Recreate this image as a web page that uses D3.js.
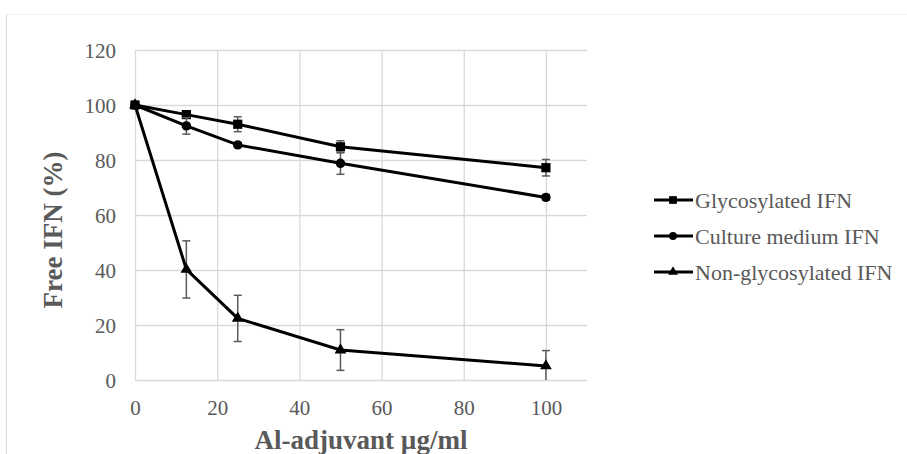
<!DOCTYPE html>
<html>
<head>
<meta charset="utf-8">
<script src="https://cdn.jsdelivr.net/npm/d3@7"></script>
<style>
  body { margin: 0; background: #fff; }
  svg text { font-family: "Liberation Serif", "Times New Roman", serif; fill: #595959; }
</style>
</head>
<body>
<script>
// doses (x) and free IFN (%) per series
const doses = [0, 12.5, 25, 50, 100]
const glycoVals = [100, 96.5, 93, 84.8, 77.2]
const glycoErr = [0, 1, 2.7, 2.2, 3]
const cultureVals = [100, 92.4, 85.5, 78.8, 66.4]
const cultureErr = [0, 3, 0.8, 4, 1]
const nonGlycoVals = [100, 40.2, 22.4, 10.9, 5.1]
const nonGlycoErr = [0, 10.4, 8.4, 7.4, 5.6]
const xTicks = [0, 20, 40, 60, 80, 100]
const yTicks = [0, 20, 40, 60, 80, 100, 120]
const seriesNames = ["Glycosylated IFN", "Culture medium IFN", "Non-glycosylated IFN"]

const WIDTH = 907, HEIGHT = 454
const svg = d3.select("body").append("svg").attr("width", WIDTH).attr("height", HEIGHT)

// faint outer frame
svg.append("line").attr("x1", 6.5).attr("x2", 6.5).attr("y1", 14).attr("y2", HEIGHT)
  .attr("stroke", "#d9d9d9")
svg.append("line").attr("x1", 6).attr("x2", WIDTH).attr("y1", 14.5).attr("y2", 14.5)
  .attr("stroke", "#f2f2f2")

const x = d3.scaleLinear().domain([0, 110]).range([135, 587])
const y = d3.scaleLinear().domain([0, 120]).range([380, 50])

// gridlines
svg.append("g").selectAll("line").data(yTicks).enter().append("line")
  .attr("x1", x(0)).attr("x2", x(110))
  .attr("y1", d => y(d) + 0.5).attr("y2", d => y(d) + 0.5)
  .attr("stroke", "#d9d9d9").attr("stroke-width", 1.3)
svg.append("g").selectAll("line").data(xTicks).enter().append("line")
  .attr("x1", d => x(d) + 0.5).attr("x2", d => x(d) + 0.5)
  .attr("y1", y(0)).attr("y2", y(120))
  .attr("stroke", "#d9d9d9").attr("stroke-width", 1.3)

// axes (labels only, Excel style)
const xAxis = svg.append("g").attr("transform", `translate(0,${y(0)})`)
  .call(d3.axisBottom(x).tickValues(xTicks).tickSize(0).tickPadding(20))
const yAxis = svg.append("g").attr("transform", `translate(${x(0)},0)`)
  .call(d3.axisLeft(y).tickValues(yTicks).tickSize(0).tickPadding(19))
;[xAxis, yAxis].forEach(a => {
  a.attr("font-family", null).attr("font-size", null)
  a.select(".domain").remove()
  a.selectAll("text").style("font-size", "21px").attr("fill", "#595959")
    .style("font-family", '"Liberation Serif", serif')
})
xAxis.selectAll("text").attr("dy", "0.71em").attr("y", 20)
yAxis.selectAll("text").attr("dy", "0.35em")

// axis titles
svg.append("text").attr("x", 361).attr("y", 449).attr("text-anchor", "middle")
  .style("font-size", "27px").style("font-weight", "bold").text("Al-adjuvant \u00b5g/ml")
svg.append("text").attr("transform", "translate(62,230) rotate(-90)").attr("text-anchor", "middle")
  .style("font-size", "27px").style("font-weight", "bold").text("Free IFN (%)")

const series = [
  { name: seriesNames[0], vals: glycoVals, err: glycoErr, sym: d3.symbolSquare, size: 85 },
  { name: seriesNames[1], vals: cultureVals, err: cultureErr, sym: d3.symbolCircle, size: 70 },
  { name: seriesNames[2], vals: nonGlycoVals, err: nonGlycoErr, sym: d3.symbolTriangle, size: 60 }
]

const line = d3.line().x(d => x(d[0])).y(d => y(d[1]))

series.forEach(s => {
  const pts = doses.map((d, i) => [d, s.vals[i], s.err[i]])
  const g = svg.append("g")
  // error bars
  const eb = g.selectAll(".eb").data(pts.filter(p => p[2] > 0)).enter().append("g")
  eb.append("line").attr("x1", p => x(p[0])).attr("x2", p => x(p[0]))
    .attr("y1", p => y(p[1] + p[2])).attr("y2", p => y(Math.max(0, p[1] - p[2])))
    .attr("stroke", "#595959").attr("stroke-width", 1.5)
  eb.append("line").attr("x1", p => x(p[0]) - 4).attr("x2", p => x(p[0]) + 4)
    .attr("y1", p => y(p[1] + p[2])).attr("y2", p => y(p[1] + p[2]))
    .attr("stroke", "#595959").attr("stroke-width", 1.5)
  eb.filter(p => p[1] - p[2] > 0).append("line")
    .attr("x1", p => x(p[0]) - 4).attr("x2", p => x(p[0]) + 4)
    .attr("y1", p => y(p[1] - p[2])).attr("y2", p => y(p[1] - p[2]))
    .attr("stroke", "#595959").attr("stroke-width", 1.5)
  g.append("path").datum(pts).attr("d", line)
    .attr("fill", "none").attr("stroke", "#000").attr("stroke-width", 3)
  g.selectAll(".m").data(pts).enter().append("path")
    .attr("transform", p => `translate(${x(p[0])},${y(p[1])})`)
    .attr("d", d3.symbol().type(s.sym).size(s.size)).attr("fill", "#000")
})

// legend
const legend = svg.append("g")
series.forEach((s, i) => {
  const ly = 200 + i * 36
  legend.append("line").attr("x1", 654).attr("x2", 693).attr("y1", ly).attr("y2", ly)
    .attr("stroke", "#000").attr("stroke-width", 3)
  legend.append("path").attr("transform", `translate(673,${ly})`)
    .attr("d", d3.symbol().type(s.sym).size(s.size * 0.7)).attr("fill", "#000")
  legend.append("text").attr("x", 695).attr("y", ly).attr("dy", "0.35em")
    .style("font-size", "22px").text(s.name)
})
</script>
</body>
</html>
